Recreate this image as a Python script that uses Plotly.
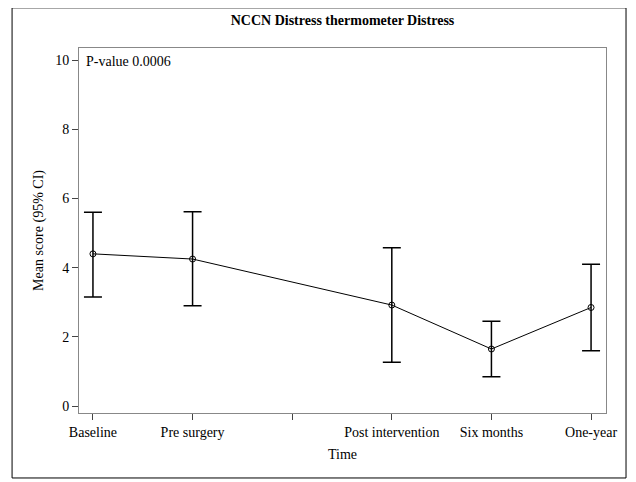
import plotly.graph_objects as go

labels = ["Baseline", "Pre surgery", "", "Post intervention", "Six months", "One-year"]
xpos = [0, 1, 3, 4, 5]
means = [4.4, 4.25, 2.92, 1.65, 2.85]
lower = [3.15, 2.9, 1.27, 0.85, 1.6]
upper = [5.6, 5.62, 4.58, 2.45, 4.1]

fig = go.Figure(go.Scatter(
    x=xpos, y=means, mode="lines+markers",
    line=dict(color="black", width=1),
    marker=dict(symbol="circle-open", size=6, color="black"),
    error_y=dict(type="data", symmetric=False,
                 array=[u - m for u, m in zip(upper, means)],
                 arrayminus=[m - l for m, l in zip(means, lower)],
                 color="black", thickness=1.5, width=9),
))
font = dict(family="Liberation Serif", color="black", size=14)
fig.update_layout(
    width=628, height=474, margin=dict(l=71, r=30, t=40, b=69, autoexpand=False),
    paper_bgcolor="white", plot_bgcolor="white", font=font, showlegend=False,
    title=dict(text="<b>NCCN Distress thermometer Distress</b>", x=0.5, xanchor="center",
               xref="paper", y=0.975, yanchor="middle", font=dict(size=14, family="Liberation Serif")),
    shapes=[dict(type="rect", xref="paper", yref="paper", x0=-0.127, x1=1.038, y0=-0.178, y1=1.11,
                 line=dict(color="black", width=1))],
    annotations=[dict(text="P-value 0.0006", xref="paper", yref="paper", x=0.01, y=0.99,
                      xanchor="left", yanchor="top", showarrow=False, font=font)],
)
fig.update_xaxes(range=[-0.14, 5.15], tickvals=list(range(6)), ticktext=labels, automargin=False,
                 ticks="outside", ticklen=6, showgrid=False, zeroline=False, tickfont=font,
                 showline=True, linecolor="#888", mirror=True,
                 title=dict(text="Time", font=font, standoff=10))
fig.update_yaxes(range=[-0.2, 10.35], tickvals=[0, 2, 4, 6, 8, 10], ticks="outside", ticklen=6,
                 showgrid=False, zeroline=False, showline=True, linecolor="#888", mirror=True,
                 tickfont=font, automargin=False,
                 title=dict(text="Mean score (95% CI)", font=font, standoff=8))
fig.write_html("out.html")
